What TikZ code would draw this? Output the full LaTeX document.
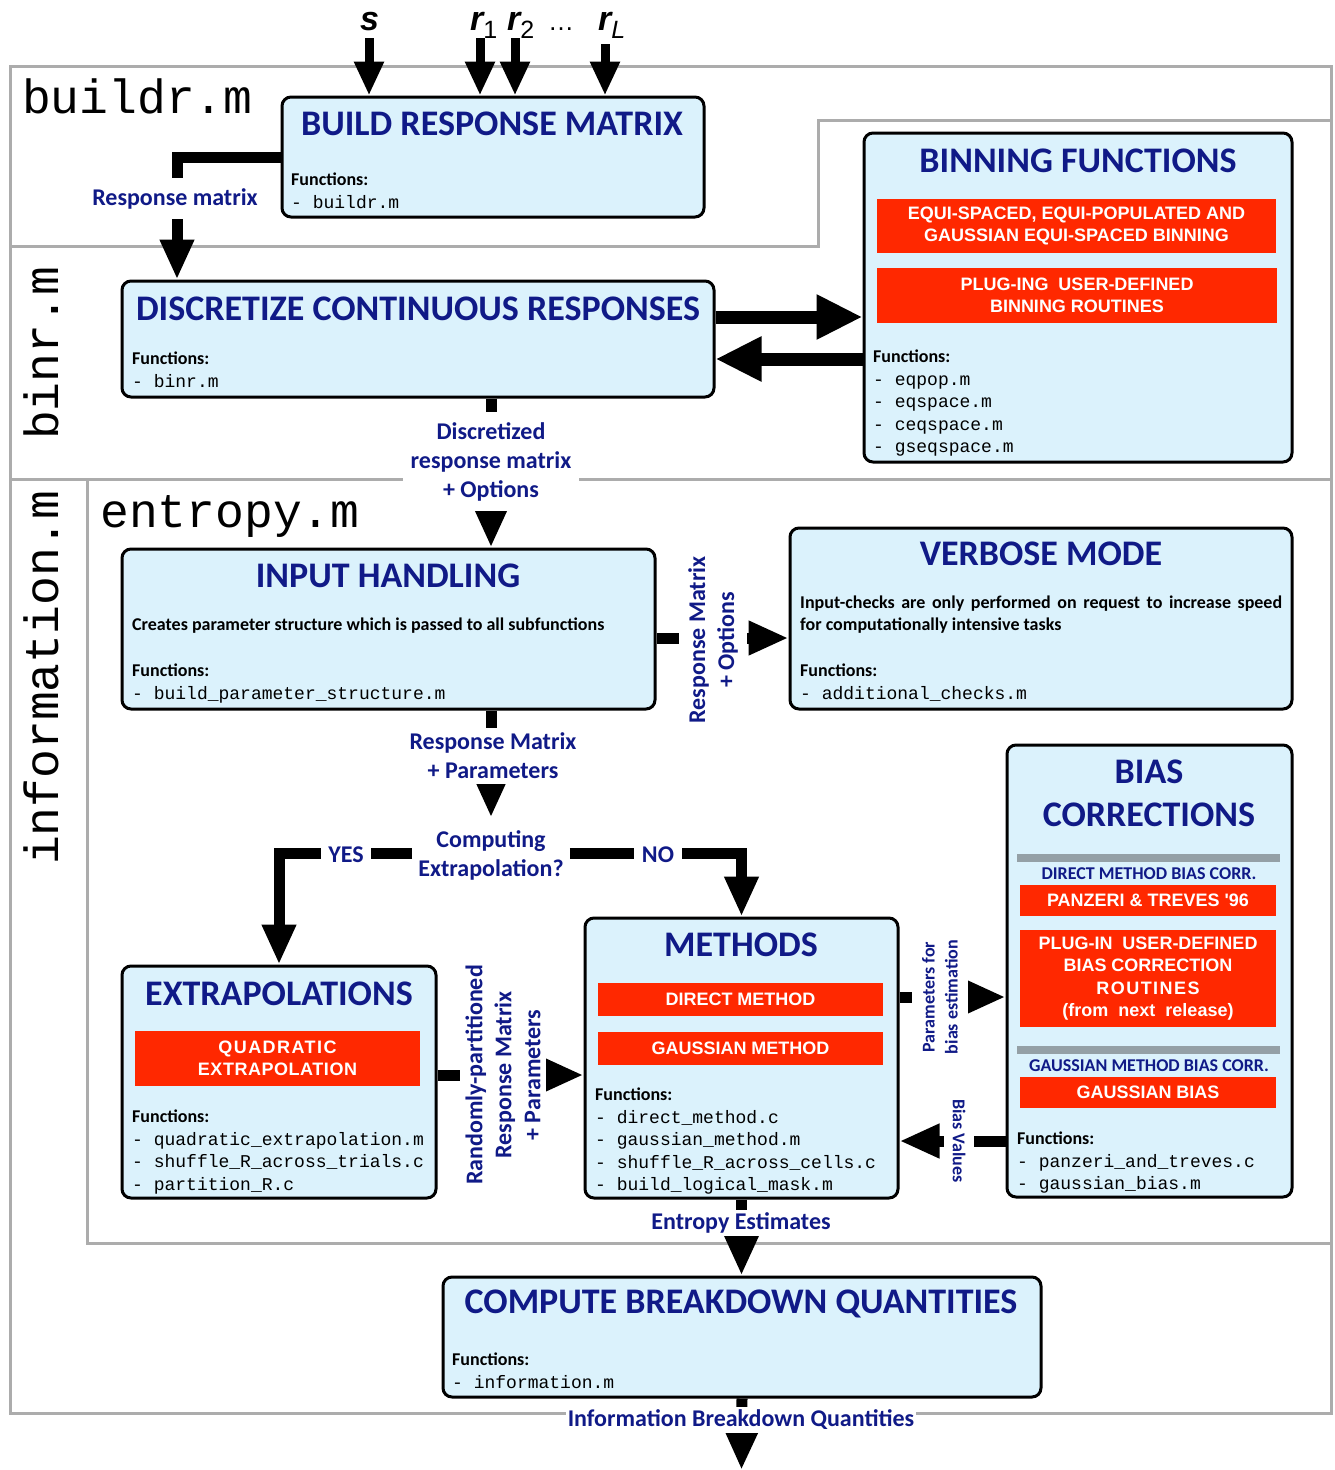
\documentclass[tikz,border=0pt]{standalone}
\usepackage{fontspec}
\setmainfont{Carlito}
\newfontfamily\arialf{Liberation Sans}
\newfontfamily\courf{Liberation Mono}
\usetikzlibrary{arrows.meta,fit}
\definecolor{boxfill}{RGB}{219,242,252}
\definecolor{navyt}{RGB}{16,26,135}
\definecolor{redfill}{RGB}{255,40,0}
\definecolor{framegray}{RGB}{172,172,172}
\definecolor{bargray}{RGB}{148,160,166}
\newcommand{\fnhead}{{\normalfont\bfseries\fontsize{18}{22.5}\selectfont Functions:}}
\newcommand{\subs}[1]{\raisebox{-8pt}{\fontsize{25}{25}\selectfont\mdseries #1}}
\begin{document}
\begin{tikzpicture}[x=1pt,y=-1pt,
  mainbox/.style={draw=black, line width=3pt, fill=boxfill, rounded corners=9pt, inner sep=0pt},
  redlbl/.style={fill=redfill, text=white, inner sep=0pt, align=center, font=\arialf\bfseries\fontsize{18}{22.3}\selectfont},
  boxtitle/.style={text=navyt, font=\bfseries\fontsize{36}{43}\selectfont, inner sep=0pt, align=center},
  fnlist/.style={anchor=north west, align=left, inner sep=0pt, font=\courf\fontsize{18}{22.4}\selectfont},
  desc/.style={inner sep=0pt, font=\bfseries\fontsize{18}{22}\selectfont},
  seclbl/.style={inner sep=0pt, font=\courf\fontsize{48}{48}\selectfont},
  framel/.style={draw=framegray, line width=3pt},
  inarrow/.style={line width=9pt, -{Triangle[width=28pt,length=34pt]}},
  flowarrow/.style={line width=11pt, -{Triangle[width=32pt,length=40pt]}},
  bigarrow/.style={line width=13pt, -{Triangle[width=42pt,length=46pt]}},
  flowlbl/.style={text=navyt, fill=white, align=center, font=\bfseries\fontsize{24}{29}\selectfont},
  smallflow/.style={text=navyt, fill=white, align=center, font=\bfseries\fontsize{18}{23}\selectfont},
  smalllbl/.style={text=navyt, inner sep=0pt, font=\bfseries\fontsize{18}{22}\selectfont},
  inlbl/.style={inner sep=0pt, anchor=base west, font=\arialf\bfseries\itshape\fontsize{34}{34}\selectfont},
  bar/.style={fill=bargray, inner sep=0pt, minimum width=263pt, minimum height=8pt}
]
\useasboundingbox (0,0) rectangle (1334,1470);
\fill[white] (0,0) rectangle (1334,1470);

% ---- frames
\draw[framel] (10,66) -- (1331,66) -- (1331,1413) -- (10,1413) -- cycle;
\draw[framel] (10,246) -- (818,246) -- (818,120) -- (1331,120);
\draw[framel] (10,479) -- (1331,479);
\draw[framel] (87,479) -- (87,1243) -- (1331,1243);

% ---- section labels
\node[seclbl, anchor=base west] (secb) at (22,113) {buildr.m};
\node[seclbl, anchor=base west, rotate=90] (secr) at (58,440) {binr.m};
\node[seclbl, anchor=base west, rotate=90] (seci) at (58,865) {information.m};
\node[seclbl, anchor=base west] (sece) at (100,527) {entropy.m};

% ---- boxes
\node[mainbox, fit={(282,97) (704,217)}] (b1) {};
\node[mainbox, fit={(122,281) (714,397)}] (b2) {};
\node[mainbox, fit={(864,133) (1292,462)}] (bin) {};
\node[mainbox, fit={(122,549) (655,709)}] (b3) {};
\node[mainbox, fit={(790,528) (1292,709)}] (vb) {};
\node[mainbox, fit={(122,966) (436,1198)}] (ex) {};
\node[mainbox, fit={(585,918) (898,1198)}] (me) {};
\node[mainbox, fit={(1007,745) (1292,1197)}] (bi) {};
\node[mainbox, fit={(443,1277) (1041,1397)}] (cb) {};

% ---- titles
\node[boxtitle] (t1) at (492,124) {BUILD RESPONSE MATRIX};
\node[boxtitle] (t2) at (418,309) {DISCRETIZE CONTINUOUS RESPONSES};
\node[boxtitle] (tbin) at (1078,161) {BINNING FUNCTIONS};
\node[boxtitle] (t3) at (388,576) {INPUT HANDLING};
\node[boxtitle] (tvb) at (1041,554) {VERBOSE MODE};
\node[boxtitle] (tex) at (279,994) {EXTRAPOLATIONS};
\node[boxtitle] (tme) at (741,945) {METHODS};
\node[boxtitle] (tbi) at (1149,793.5) {BIAS\\CORRECTIONS};
\node[boxtitle] (tcb) at (741,1304) {COMPUTE BREAKDOWN QUANTITIES};

% ---- red boxes
\node[redlbl, minimum width=399pt, minimum height=54pt] (rb1) at (1076.5,226) {EQUI-SPACED, EQUI-POPULATED AND\\GAUSSIAN EQUI-SPACED BINNING};
\node[redlbl, minimum width=400pt, minimum height=55pt] (rb2) at (1077,295.5) {PLUG-ING\ \ USER-DEFINED\\BINNING ROUTINES};
\node[redlbl, minimum width=285pt, minimum height=55pt] (rex) at (277.5,1058.5) {\addfontfeature{LetterSpace=8}QUADRATIC\\\addfontfeature{LetterSpace=3}EXTRAPOLATION};
\node[redlbl, minimum width=285pt, minimum height=33pt] (rdm) at (740.5,999.5) {DIRECT METHOD};
\node[redlbl, minimum width=285pt, minimum height=33pt] (rgm) at (740.5,1048.5) {GAUSSIAN METHOD};
\node[bar] (bar1) at (1148.5,858) {};
\node[smalllbl] (dmb) at (1149,874) {DIRECT METHOD BIAS CORR.};
\node[redlbl, minimum width=256pt, minimum height=31pt] (rpt) at (1148,900.5) {PANZERI \& TREVES \textquotesingle 96};
\node[redlbl, minimum width=256pt, minimum height=97pt] (rpl) at (1148,978.5) {PLUG-IN\ \ USER-DEFINED\\BIAS CORRECTION\\{\addfontfeature{LetterSpace=8}ROUTINES}\\(from\ \ next\ \ release)};
\node[bar] (bar2) at (1148.5,1050) {};
\node[smalllbl] (gmb) at (1149,1066) {GAUSSIAN METHOD BIAS CORR.};
\node[redlbl, minimum width=256pt, minimum height=31pt] (rgb) at (1148,1092.5) {GAUSSIAN BIAS};

% ---- descriptions
\node[desc, anchor=west] (d3) at (132,626) {Creates parameter structure which is passed to all subfunctions};
\node[desc, anchor=north west, text width=482pt, align=justify] (dvb) at (800,596) {Input-checks are only performed on request to increase speed\linebreak for computationally intensive tasks};

% ---- function lists
\node[fnlist] (f1) at (291,173) {\fnhead\\- buildr.m};
\node[fnlist] (f2) at (132,352) {\fnhead\\- binr.m};
\node[fnlist] (fbin) at (873,350) {\fnhead\\- eqpop.m\\- eqspace.m\\- ceqspace.m\\- gseqspace.m};
\node[fnlist] (f3) at (132,664) {\fnhead\\- build\_parameter\_structure.m};
\node[fnlist] (fvb) at (800,664) {\fnhead\\- additional\_checks.m};
\node[fnlist] (fex) at (132,1110) {\fnhead\\- quadratic\_extrapolation.m\\- shuffle\_R\_across\_trials.c\\- partition\_R.c};
\node[fnlist] (fme) at (595,1088) {\fnhead\\- direct\_method.c\\- gaussian\_method.m\\- shuffle\_R\_across\_cells.c\\- build\_logical\_mask.m};
\node[fnlist] (fbi) at (1017,1132) {\fnhead\\- panzeri\_and\_treves.c\\- gaussian\_bias.m};
\node[fnlist] (fcb) at (452,1353) {\fnhead\\- information.m};

% ---- inputs
\node[inlbl] (ls) at (360,30) {s};
\node[inlbl] (lr1) at (470,30) {r\subs{\upshape 1}};
\node[inlbl] (lr2) at (507,30) {r\subs{\upshape 2}};
\node[inlbl, font=\arialf\fontsize{26}{26}\selectfont] (ldots) at (548,30) {\ldots};
\node[inlbl] (lrL) at (598,30) {r\subs{\itshape L}};
\coordinate (a0) at (369,38);
\coordinate (a1) at (480,38);
\coordinate (a2) at (515,38);
\coordinate (aL) at (605,44);
\draw[inarrow] (a0) -- (a0 |- b1.north);
\draw[inarrow] (a1) -- (a1 |- b1.north);
\draw[inarrow] (a2) -- (a2 |- b1.north);
\draw[inarrow] (aL) -- (aL |- b1.north);

% ---- connectors
\coordinate (c1) at (177,0);
\coordinate (c2) at (491,0);
\coordinate (p1) at (0,317);
\coordinate (p1b) at (0,359);
\coordinate (p2) at (0,638);
\coordinate (p3) at (0,1075);
\coordinate (p4) at (0,997);
\coordinate (p5) at (0,1141);
\coordinate (out) at (741.5,1470);

% decision
\node[flowlbl, inner xsep=6pt, inner ysep=13pt] (dec) at (491,855.5) {Computing\\Extrapolation?};

\draw[flowarrow] (b1.west) -| (c1 |- b2.north);
\draw[bigarrow] (b2.east |- p1) -- (bin.west |- p1);
\draw[bigarrow] (bin.west |- p1b) -- (b2.east |- p1b);
\draw[flowarrow] (b2.south -| c2) -- (b3.north -| c2);
\draw[flowarrow] (b3.east |- p2) -- (vb.west |- p2);
\draw[flowarrow] (b3.south -| c2) -- (dec.north);
\draw[flowarrow] (dec.west |- 0,853) -| (ex.north);
\draw[flowarrow] (dec.east |- 0,853) -| (me.north);
\draw[flowarrow] (ex.east |- p3) -- (me.west |- p3);
\draw[flowarrow] (me.east |- p4) -- (bi.west |- p4);
\draw[flowarrow] (bi.west |- p5) -- (me.east |- p5);
\draw[flowarrow] (me.south) -- (me.south |- cb.north);
\draw[flowarrow] (cb.south) -- (out);

% ---- connector labels
\node[flowlbl, inner xsep=4pt, inner ysep=10pt] (lrm) at (175,198.5) {Response matrix};
\node[flowlbl, inner xsep=8pt, inner ysep=10pt] (ldr) at (491,461.5) {Discretized\\response matrix\\+ Options};
\node[flowlbl, rotate=90, inner xsep=4pt, inner ysep=9pt] (lro) at (713,640) {Response Matrix\\+ Options};
\node[flowlbl, inner xsep=4pt, inner ysep=5pt] (lrp) at (493,755.5) {Response Matrix\\+ Parameters};
\node[flowlbl, inner xsep=7pt, inner ysep=2pt] (lyes) at (346,855) {YES};
\node[flowlbl, inner xsep=8pt, inner ysep=2pt] (lno) at (658,855) {NO};
\node[flowlbl, rotate=90, inner xsep=4pt, inner ysep=5pt] (lrr) at (503,1075) {Randomly-partitioned\\Response Matrix\\+ Parameters};
\node[smallflow, rotate=90, inner xsep=2pt, inner ysep=10pt] (lpb) at (940,997) {Parameters for\\bias estimation};
\node[smallflow, rotate=-90, inner xsep=2pt, inner ysep=9pt] (lbv) at (959,1141) {Bias Values};
\node[flowlbl, inner xsep=3pt, inner ysep=3pt] (lee) at (741,1223) {Entropy Estimates};
\node[flowlbl, inner xsep=2pt, inner ysep=3pt] (lib) at (741,1420) {Information Breakdown Quantities};
\end{tikzpicture}
\end{document}
